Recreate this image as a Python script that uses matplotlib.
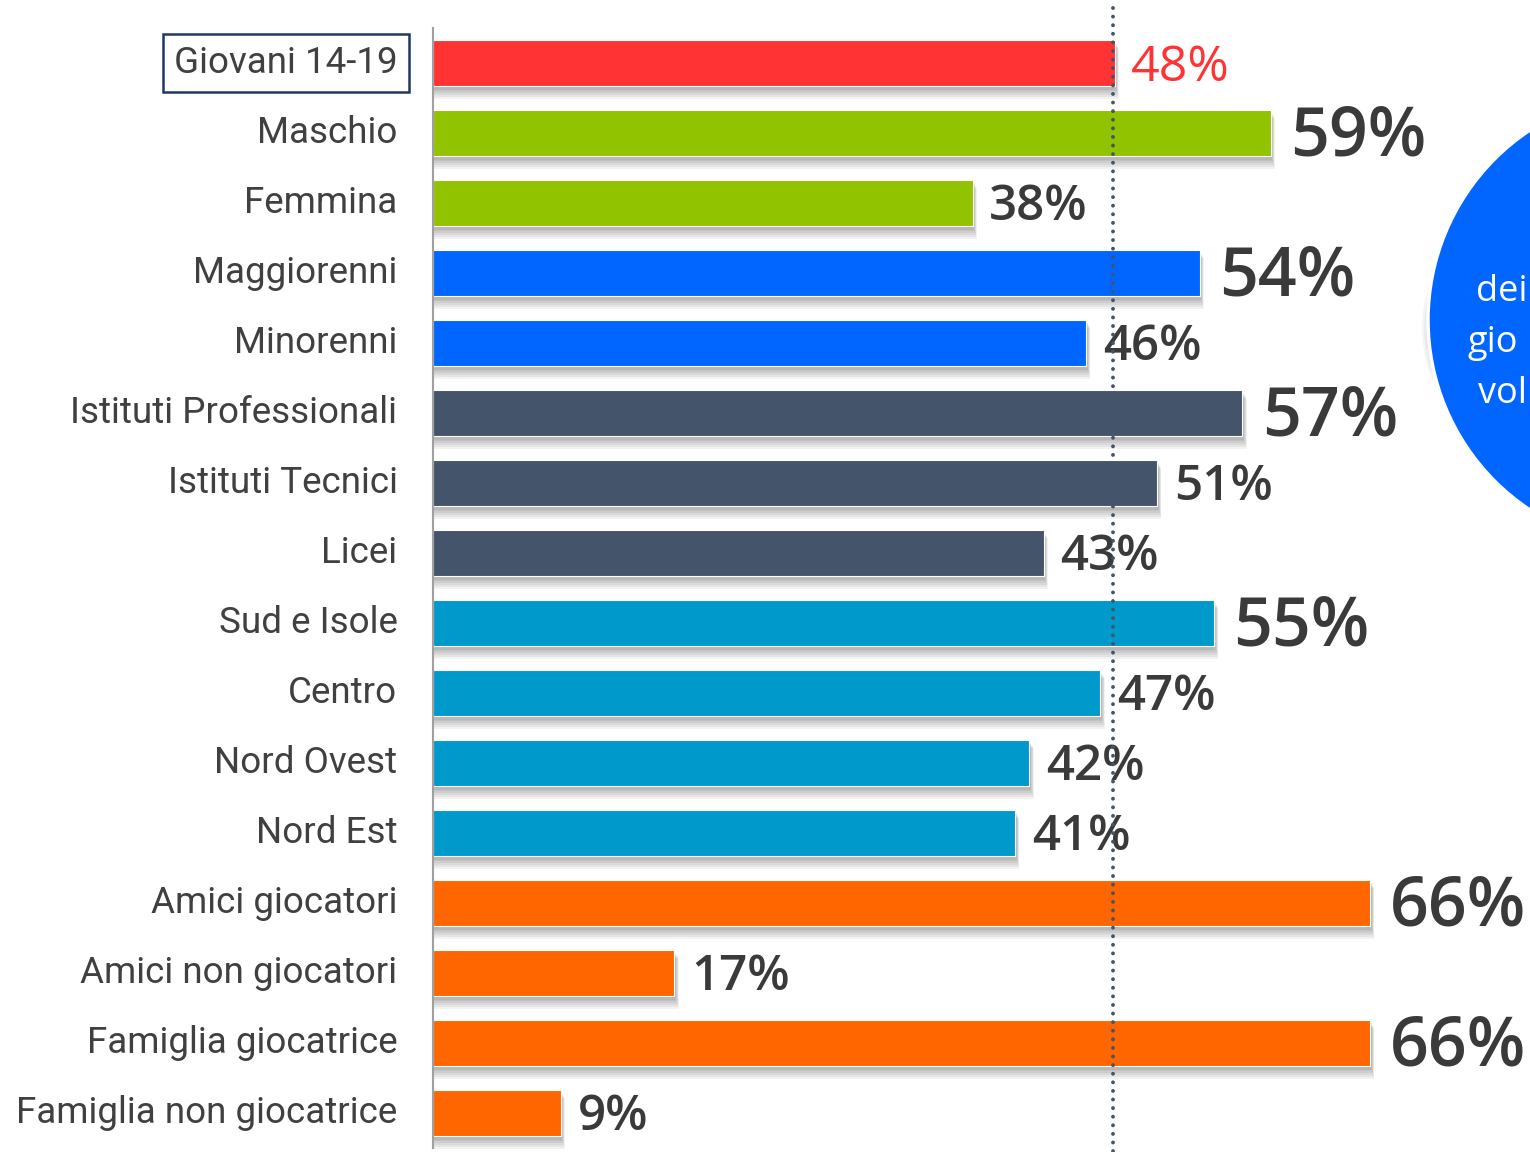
import matplotlib.pyplot as plt
from matplotlib.patches import Rectangle, Circle

# dati
categorie = ["Giovani 14-19", "Maschio", "Femmina", "Maggiorenni", "Minorenni",
             "Istituti Professionali", "Istituti Tecnici", "Licei", "Sud e Isole",
             "Centro", "Nord Ovest", "Nord Est", "Amici giocatori",
             "Amici non giocatori", "Famiglia giocatrice", "Famiglia non giocatrice"]
valori = [48, 59, 38, 54, 46, 57, 51, 43, 55, 47, 42, 41, 66, 17, 66, 9]
colori = ["#FF3333", "#92C300", "#92C300", "#0066FF", "#0066FF",
          "#44546A", "#44546A", "#44546A", "#0099CC", "#0099CC", "#0099CC", "#0099CC",
          "#FF6600", "#FF6600", "#FF6600", "#FF6600"]
media = valori[0]
testo_cerchio = ["dei", "gio", "vol"]

W, H = 1530, 1152
fig = plt.figure(figsize=(W / 100, H / 100), dpi=100)
x0 = 433
ppp = 14.2  # pixel per punto percentuale
ax = fig.add_axes([x0 / W, 0, 1 - x0 / W, 1])
ax.set_xlim(0, (W - x0) / ppp)
ax.set_ylim(15 + 39 / 70, -63 / 70)
ax.axis("off")

h = 0.66
y = list(range(len(valori)))

# ombre sfumate
for k in range(6):
    for yi, v in zip(y, valori):
        ax.add_patch(Rectangle((0, yi - h / 2 + 0.05 + k * 0.012), v + 0.1 + k * 0.04,
                               h + k * 0.015, color="#000000", alpha=0.05, lw=0, zorder=1))

ax.barh(y, valori, height=h, color=colori, edgecolor="white", linewidth=0.8, zorder=3)

# asse verticale sinistro
ax.plot([0, 0], [-0.5, 15.5], color="#A0A0A0", lw=1.5, zorder=4, clip_on=False)

# linea tratteggiata della media
ax.plot([media - 0.1, media - 0.1], [-0.79, 15.6], color="#44546A", lw=2.8,
        linestyle=(0, (0.01, 2.2)), dash_capstyle="round", zorder=6, clip_on=False)

# etichette valori
for yi, v in zip(y, valori):
    if yi == 0:
        col, fs, fw, off = "#FF3333", 36, "normal", 12
    elif v >= 54:
        col, fs, fw, off = "#3A3A3A", 49, "semibold", 14
    else:
        col, fs, fw, off = "#3A3A3A", 35.5, "semibold", 12
    ax.annotate(f"{v}%", (v, yi), xytext=(off, -3.5), textcoords="offset points",
                ha="left", va="center", fontsize=fs, color=col, fontweight=fw,
                family="Open Sans", zorder=5, annotation_clip=False)

# etichette categorie
for yi, c in zip(y, categorie):
    t = ax.text(-2.5, yi, c, ha="right", va="center", fontsize=26.5, color="#404040",
                family="Roboto", zorder=5)
    if yi == 0:
        t.set_bbox(dict(boxstyle="square,pad=0.3", facecolor="white",
                        edgecolor="#1F3864", linewidth=1.8))

# cerchio a destra (tagliato dal bordo)
for k in range(5):
    fig.patches.append(Circle((1660 / W, 1 - 328 / H), (230 + k * 2) / W,
                              transform=fig.transFigure, color="black", alpha=0.04,
                              lw=0, zorder=0))
cerchio = Circle((1656, H - 320), 228, transform=None, facecolor="#0066FF",
                 edgecolor="white", linewidth=2.5, zorder=2)
fig.patches.append(cerchio)
for i, (s, xs) in enumerate(zip(testo_cerchio, [1476, 1468, 1478])):
    fig.text(xs / W, 1 - (292 + 51 * i) / H, s, ha="left", va="center",
             fontsize=26, color="white", family="Open Sans", zorder=3)

fig.savefig("out.png", dpi=100)
